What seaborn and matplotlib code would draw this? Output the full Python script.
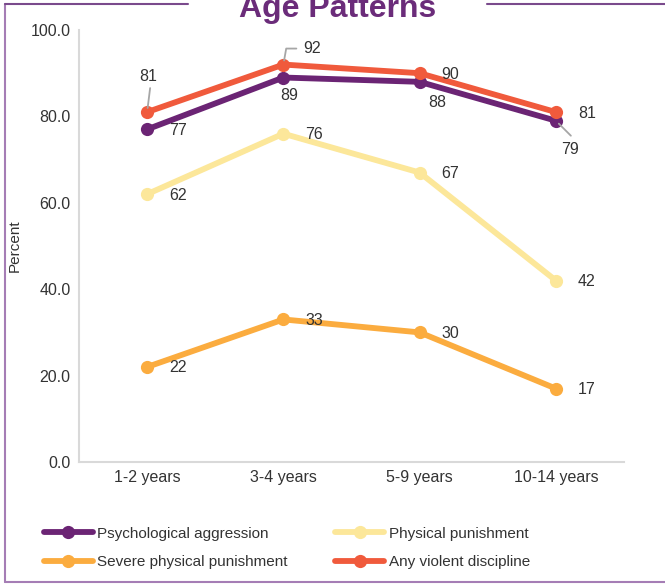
import matplotlib.pyplot as plt
import numpy as np
import pandas as pd
import seaborn as sns
from matplotlib.lines import Line2D

# data
ages = ['1-2 years', '3-4 years', '5-9 years', '10-14 years']
psych = [77, 89, 88, 79]
physical = [62, 76, 67, 42]
severe = [22, 33, 30, 17]
any_violent = [81, 92, 90, 81]

series_names = ['Psychological aggression', 'Physical punishment',
                'Severe physical punishment', 'Any violent discipline']
colors = ['#6b2474', '#fce79a', '#fbac3f', '#f05a3c']

df = pd.DataFrame({
    'age': ages * 4,
    'pos': list(range(4)) * 4,
    'value': psych + physical + severe + any_violent,
    'series': [s for s in series_names for _ in ages],
})

sns.set_style('white')
plt.rcParams['font.family'] = ['Liberation Sans', 'DejaVu Sans']

fig = plt.figure(figsize=(6.65, 5.84), dpi=100)
ax = fig.add_axes([79 / 665, 1 - 462 / 584, (624 - 79) / 665, (462 - 30) / 584])

# draw order: physical/severe under, then psych, then any on top
draw_order = ['Severe physical punishment', 'Physical punishment',
              'Psychological aggression', 'Any violent discipline']
pal = dict(zip(series_names, colors))
for name in draw_order:
    sub = df[df['series'] == name]
    sns.lineplot(data=sub, x='pos', y='value', color=pal[name], ax=ax,
                 linewidth=4.2, marker='o', markersize=9.5, markeredgewidth=0,
                 legend=False)

fs = 11.5
ax.set_xlim(-0.5, 3.5)
ax.set_ylim(0, 100)
ax.set_xticks(range(4))
ax.set_xticklabels(ages)
ax.set_yticks(np.arange(0, 101, 20))
ax.set_yticklabels([f'{v:.1f}' for v in np.arange(0, 101, 20)])
ax.tick_params(labelsize=fs, colors='#333333', length=0, pad=6)
ax.set_xlabel('')
ax.set_ylabel('Percent', fontsize=11, color='#333333')
ax.yaxis.set_label_coords((22 - 79) / 545, 0.5)
for side in ['top', 'right']:
    ax.spines[side].set_visible(False)
for side in ['left', 'bottom']:
    ax.spines[side].set_color('#d9d9d9')
    ax.spines[side].set_linewidth(1.5)

# data labels (offsets in px converted to points)
k = 0.72
lab_kw = dict(textcoords='offset points', ha='center', va='center',
              fontsize=fs, color='#333333')
right = (31, -1)
offsets = {
    'Psychological aggression': [right, (6, -18), (18, -21), (14, -29)],
    'Physical punishment': [right, right, right, right],
    'Severe physical punishment': [right, right, right, right],
    'Any violent discipline': [(1, 36), (29, 16), right, right],
}
values = dict(zip(series_names, [psych, physical, severe, any_violent]))
for name in series_names:
    for i, v in enumerate(values[name]):
        dx, dy = offsets[name][i]
        ax.annotate(str(v), (i, v), xytext=(dx * k, dy * k), **lab_kw)

# leader lines
lead = dict(color='#a6a6a6', linewidth=1.3)
ax.annotate('', (0, any_violent[0]), xytext=(3 * k, 24 * k),
            textcoords='offset points',
            arrowprops=dict(arrowstyle='-', shrinkA=0, shrinkB=3, **lead))
ax.annotate('', (1, any_violent[1]), xytext=(13 * k, 16 * k),
            textcoords='offset points',
            arrowprops=dict(arrowstyle='-', shrinkA=0, shrinkB=3,
                            connectionstyle='angle,angleA=0,angleB=80,rad=0', **lead))
ax.annotate('', (3, psych[3]), xytext=(15 * k, -15 * k),
            textcoords='offset points',
            arrowprops=dict(arrowstyle='-', shrinkA=0, shrinkB=3, **lead))

# legend
handles = [Line2D([], [], color=pal[n], linewidth=4.2, marker='o', markersize=9.5,
                  markeredgewidth=0) for n in series_names]
leg_order = [0, 2, 1, 3]
fig.legend([handles[i] for i in leg_order], [series_names[i] for i in leg_order],
           ncol=2, loc='center left', bbox_to_anchor=(30 / 665, 1 - 548 / 584),
           frameon=False, fontsize=11, handlelength=3.2, handletextpad=0.3,
           columnspacing=3.1, labelspacing=0.95, labelcolor='#333333')

# frame around the figure
frame_c = '#a57db5'
fig.add_artist(Line2D([5 / 665, 5 / 665], [1 - 4 / 584, 1 - 582 / 584],
                      transform=fig.transFigure, color=frame_c, linewidth=1.5))
fig.add_artist(Line2D([5 / 665, 1], [1 - 582 / 584, 1 - 582 / 584],
                      transform=fig.transFigure, color=frame_c, linewidth=1.5))
fig.add_artist(Line2D([5 / 665, 188 / 665], [1 - 4 / 584, 1 - 4 / 584],
                      transform=fig.transFigure, color='#7a4a8c', linewidth=1.5))
fig.add_artist(Line2D([487 / 665, 1], [1 - 4 / 584, 1 - 4 / 584],
                      transform=fig.transFigure, color='#7a4a8c', linewidth=1.5))

fig.text(338 / 665, 1 - 17 / 584, 'Age Patterns', ha='center', va='baseline',
         fontsize=23, fontweight='bold', color='#6b2c7a')

fig.savefig('out.png', dpi=100)
